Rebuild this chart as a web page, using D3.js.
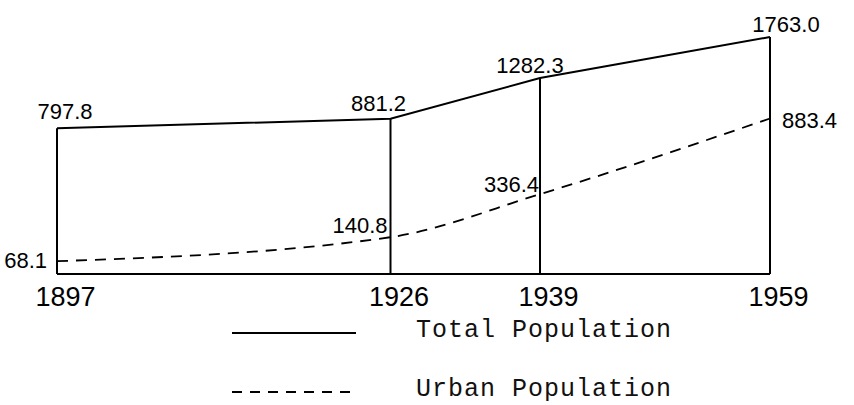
<!DOCTYPE html>
<html>
<head>
<meta charset="utf-8">
<script src="https://cdn.jsdelivr.net/npm/d3@7"></script>
<style>
  body { margin: 0; background: #fff; }
  svg { display: block; }
  .value { font-family: "Liberation Sans", Arial, sans-serif; font-size: 22px; fill: #000; }
  .year { font-family: "Liberation Sans", Arial, sans-serif; font-size: 27px; fill: #000; }
  .legend { font-family: "Liberation Mono", "DejaVu Sans Mono", monospace; font-size: 25px; letter-spacing: 1px; fill: #111; }
</style>
</head>
<body>
<div id="chart"></div>
<script>
// data
const years = [1897, 1926, 1939, 1959];
const totalPop = [797.8, 881.2, 1282.3, 1763.0];
const urbanPop = [68.1, 140.8, 336.4, 883.4];
const totalLabels = ['797.8', '881.2', '1282.3', '1763.0'];
const urbanLabels = ['68.1', '140.8', '336.4', '883.4'];
const seriesNames = ['Total Population', 'Urban Population'];

// label nudges (dx, dy, anchor) relative to each point
const totalNudge = [[8, -9, 'middle'], [-12, -8, 'middle'], [-10, -5, 'middle'], [16, -5, 'middle']];
const urbanNudge = [[-10, 7, 'end'], [-3, -4, 'end'], [-1, -2, 'end'], [12, 9, 'start']];

const width = 854, height = 405;
const baseY = 274;

const svg = d3.select('#chart').append('svg')
  .attr('width', width)
  .attr('height', height);

const x = d3.scaleLinear().domain([1897, 1959]).range([57, 770]);
// the drawing is not to a linear vertical scale; a square-root scale follows it best
const y = d3.scaleSqrt().domain([40, 1763]).range([baseY, 37]);

const total = years.map((d, i) => ({year: d, v: totalPop[i], label: totalLabels[i], n: totalNudge[i]}));
const urban = years.map((d, i) => ({year: d, v: urbanPop[i], label: urbanLabels[i], n: urbanNudge[i]}));

const plot = svg.append('g');

// baseline
plot.append('line')
  .attr('x1', x(years[0])).attr('x2', x(years[years.length - 1]))
  .attr('y1', baseY).attr('y2', baseY)
  .style('stroke', '#000').style('stroke-width', 2.2);

// vertical lines at each census year
plot.selectAll('.year-line')
  .data(total)
  .enter().append('line')
  .attr('class', 'year-line')
  .attr('x1', d => x(d.year)).attr('x2', d => x(d.year))
  .attr('y1', baseY).attr('y2', d => y(d.v))
  .style('stroke', '#000').style('stroke-width', 2);

// total population
const lineTotal = d3.line().x(d => x(d.year)).y(d => y(d.v));
plot.append('path')
  .datum(total)
  .attr('d', lineTotal)
  .style('fill', 'none').style('stroke', '#000').style('stroke-width', 2);

// urban population, dashed
const lineUrban = d3.line().x(d => x(d.year)).y(d => y(d.v)).curve(d3.curveMonotoneX);
plot.append('path')
  .datum(urban)
  .attr('d', lineUrban)
  .style('fill', 'none').style('stroke', '#000').style('stroke-width', 1.8)
  .style('stroke-dasharray', '11,8');

// value labels
plot.selectAll('.total-label')
  .data(total)
  .enter().append('text')
  .attr('class', 'value total-label')
  .attr('x', d => x(d.year) + d.n[0])
  .attr('y', d => y(d.v) + d.n[1])
  .attr('text-anchor', d => d.n[2])
  .text(d => d.label);

plot.selectAll('.urban-label')
  .data(urban)
  .enter().append('text')
  .attr('class', 'value urban-label')
  .attr('x', d => x(d.year) + d.n[0])
  .attr('y', d => y(d.v) + d.n[1])
  .attr('text-anchor', d => d.n[2])
  .text(d => d.label);

// year labels
const axisX = d3.axisBottom(x)
  .tickValues(years)
  .tickFormat(d3.format('d'))
  .tickSize(0)
  .tickPadding(0);
const axisNode = svg.append('g')
  .attr('transform', `translate(8,${baseY})`)
  .call(axisX);
axisNode.select('.domain').remove();
axisNode.selectAll('text')
  .attr('class', 'year')
  .attr('font-family', null).attr('font-size', null)
  .attr('dy', null)
  .attr('y', 32);

// legend
const legend = svg.append('g').attr('transform', 'translate(232,0)');
const legendRows = seriesNames.map((name, i) => ({name: name, dashed: i === 1}));
const rowY = d3.scalePoint().domain(seriesNames).range([333, 392]);

legend.selectAll('.legend-line')
  .data(legendRows)
  .enter().append('line')
  .attr('x1', 0).attr('x2', 124)
  .attr('y1', d => rowY(d.name)).attr('y2', d => rowY(d.name))
  .style('stroke', '#000')
  .style('stroke-width', 1.8)
  .style('stroke-dasharray', d => d.dashed ? '10,8' : null);

legend.selectAll('.legend-text')
  .data(legendRows)
  .enter().append('text')
  .attr('class', 'legend')
  .attr('x', 184)
  .attr('y', d => rowY(d.name) + 4)
  .text(d => d.name);
</script>
</body>
</html>
